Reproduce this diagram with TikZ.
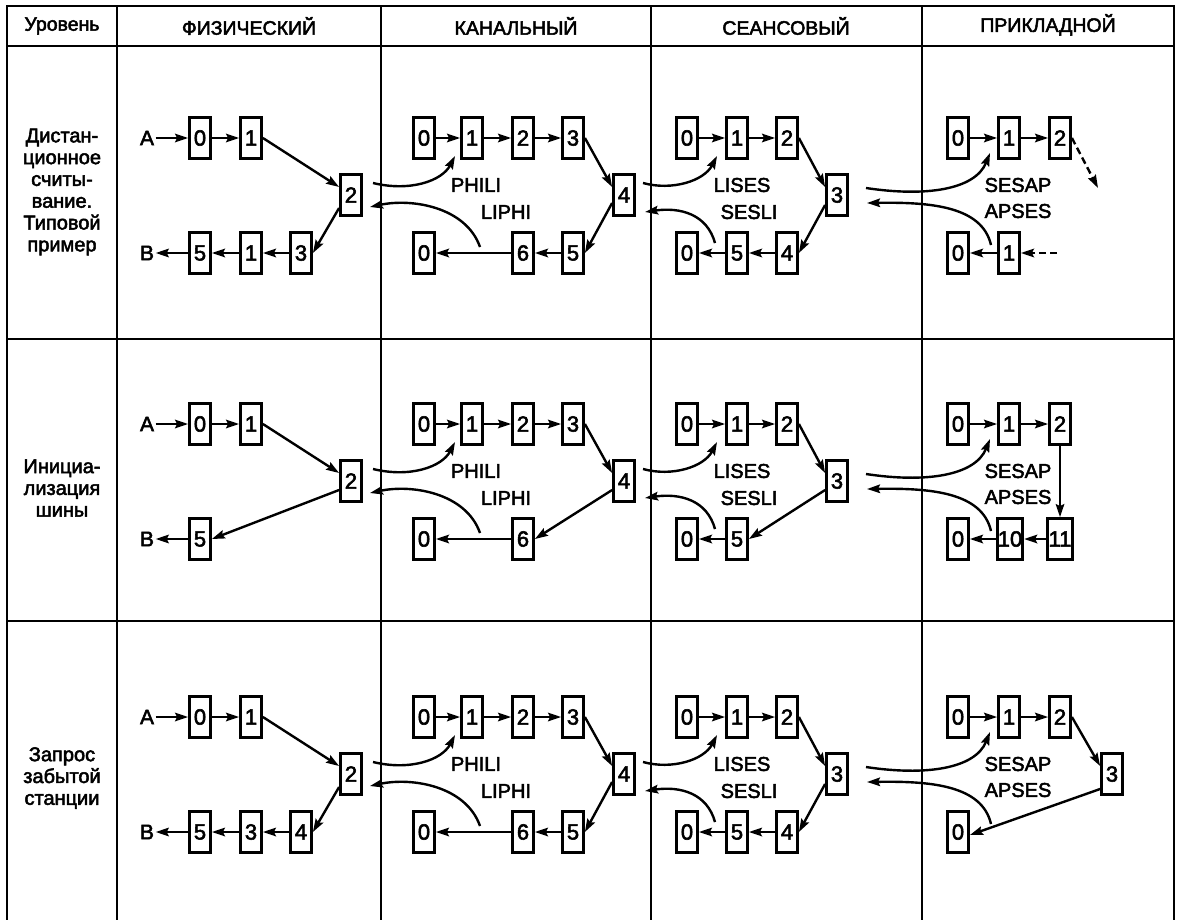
\documentclass[tikz,border=0pt]{standalone}
\usepackage{fontspec}
\setmainfont{Liberation Sans}[BoldFont={Liberation Sans},BoldFeatures={FakeBold=2.5}]
\usetikzlibrary{arrows.meta}
\tikzset{
  tbl/.style={line width=2.8pt},
  box/.style={draw, line width=2.8pt, minimum width=21pt, minimum height=41pt, inner sep=0pt, font=\fontsize{22}{22}\selectfont\bfseries},
  wbox/.style={box, minimum width=25.5pt},
  arr/.style={line width=2.4pt, -{Stealth[length=13pt,width=8.5pt,inset=2pt]}},
  darr/.style={arr, dash pattern=on 7pt off 4pt},
  lbl/.style={inner sep=1.5pt, font=\fontsize{21}{21}\selectfont\bfseries},
  tlbl/.style={inner sep=0pt, font=\fontsize{20}{20}\selectfont\bfseries},
  hdr/.style={inner sep=0pt, font=\fontsize{19.5}{19.5}\selectfont\bfseries},
  rowlbl/.style={inner sep=0pt, align=center, font=\fontsize{20}{21.8}\selectfont\bfseries}
}
\newcommand\layercurves[1]{%
  \coordinate (#1c1s) at (373,183); \coordinate (#1c1e) at (455,156);
  \draw[arr] (#1c1s) .. controls (410,192) and (442,181) .. (#1c1e);
  \coordinate (#1c2s) at (480,247); \coordinate (#1c2e) at (370,207);
  \draw[arr] (#1c2s) .. controls (466,207) and (412,198) .. (#1c2e);
  \coordinate (#1c3s) at (643,183); \coordinate (#1c3e) at (717,156);
  \draw[arr] (#1c3s) .. controls (672,191) and (704,181) .. (#1c3e);
  \coordinate (#1c4s) at (715,243); \coordinate (#1c4e) at (645,212);
  \draw[arr] (#1c4s) .. controls (707,214) and (680,207) .. (#1c4e);
  \coordinate (#1c5s) at (866,188); \coordinate (#1c5e) at (990,153);
  \draw[arr] (#1c5s) .. controls (925,197) and (975,190) .. (#1c5e);
  \coordinate (#1c6s) at (991,245); \coordinate (#1c6e) at (867,203);
  \draw[arr] (#1c6s) .. controls (982,206) and (930,202) .. (#1c6e);
  \node[tlbl] (#1l1) at (476,185) {PHILI};
  \node[tlbl] (#1l2) at (506,212) {LIPHI};
  \node[tlbl] (#1l3) at (742,185) {LISES};
  \node[tlbl] (#1l4) at (749,212) {SESLI};
  \node[tlbl] (#1l5) at (1018,185) {SESAP};
  \node[tlbl] (#1l6) at (1018,211) {APSES};
}
\begin{document}
\begin{tikzpicture}[x=1pt,y=-1pt]
\useasboundingbox (0,0) rectangle (1180,920);
% table
\draw[tbl] (7,920) -- (7,6) -- (1174,6) -- (1174,920);
\draw[tbl] (7,46) -- (1174,46);
\draw[tbl] (7,339) -- (1174,339);
\draw[tbl] (7,621) -- (1174,621);
\foreach \xx in {117,381,651,922} \draw[tbl] (\xx,6) -- (\xx,920);
% headers
\node[hdr] (h0) at (62,26) {Уровень};
\node[hdr] (h1) at (249,26) {ФИЗИЧЕСКИЙ};
\node[hdr] (h2) at (516,26) {КАНАЛЬНЫЙ};
\node[hdr] (h3) at (786,26) {СЕАНСОВЫЙ};
\node[hdr] (h4) at (1048,25) {ПРИКЛАДНОЙ};
% row labels
\node[rowlbl] (r1) at (62,192) {Дистан-\\ционное\\считы-\\вание.\\Типовой\\пример};
\node[rowlbl] (r2) at (62,488) {Инициа-\\лизация\\шины};
\node[rowlbl] (r3) at (62,778) {Запрос\\забытой\\станции};

% ===== Row 1 =====
\begin{scope}
\node[lbl] (aA) at (147,138) {A};
\node[box] (ap0) at (200,138) {0};
\node[box] (ap1) at (251,138) {1};
\node[box] (ap2) at (351,195) {2};
\node[box] (ap3) at (301,253) {3};
\node[box] (ap1b) at (251,253) {1};
\node[box] (ap5) at (200,253) {5};
\node[lbl] (aB) at (147,253) {B};
\draw[arr] (aA) -- (ap0);
\draw[arr] (ap0) -- (ap1);
\draw[arr] (ap1.east) -- ([yshift=8pt]ap2.west);
\draw[arr] ([yshift=-13pt]ap2.west) -- (ap3.east);
\draw[arr] (ap3) -- (ap1b);
\draw[arr] (ap1b) -- (ap5);
\draw[arr] (ap5) -- (aB);
% canal
\node[box] (ak0) at (424,138) {0};
\node[box] (ak1) at (472,138) {1};
\node[box] (ak2) at (523,138) {2};
\node[box] (ak3) at (573,138) {3};
\node[box] (ak4) at (624,195) {4};
\node[box] (ak5) at (573,253) {5};
\node[box] (ak6) at (523,253) {6};
\node[box] (ak0b) at (424,253) {0};
\draw[arr] (ak0) -- (ak1);
\draw[arr] (ak1) -- (ak2);
\draw[arr] (ak2) -- (ak3);
\draw[arr] (ak3.east) -- ([yshift=8pt]ak4.west);
\draw[arr] ([yshift=-8pt]ak4.west) -- (ak5.east);
\draw[arr] (ak5) -- (ak6);
\draw[arr] (ak6) -- (ak0b);
% session
\node[box] (as0) at (687,138) {0};
\node[box] (as1) at (737,138) {1};
\node[box] (as2) at (787,138) {2};
\node[box] (as3) at (837,195) {3};
\node[box] (as4) at (787,253) {4};
\node[box] (as5) at (737,253) {5};
\node[box] (as0b) at (687,253) {0};
\draw[arr] (as0) -- (as1);
\draw[arr] (as1) -- (as2);
\draw[arr] (as2.east) -- ([yshift=8pt]as3.west);
\draw[arr] ([yshift=-10pt]as3.west) -- (as4.east);
\draw[arr] (as4) -- (as5);
\draw[arr] (as5) -- (as0b);
% application
\node[box] (aa0) at (958,138) {0};
\node[box] (aa1) at (1009,138) {1};
\node[box] (aa2) at (1060,138) {2};
\node[box] (aa1b) at (1009,253) {1};
\node[box] (aa0b) at (958,253) {0};
\coordinate (aad1) at (1098,188);
\coordinate (aad2) at (1057,253);
\draw[arr] (aa0) -- (aa1);
\draw[arr] (aa1) -- (aa2);
\draw[darr] (aa2.east) -- (aad1);
\draw[darr] (aad2) -- (aa1b.east);
\draw[arr] (aa1b) -- (aa0b);
\layercurves{a}
\end{scope}

% ===== Row 2 =====
\begin{scope}[shift={(0,286)}]
\node[lbl] (bA) at (147,138) {A};
\node[box] (bp0) at (200,138) {0};
\node[box] (bp1) at (251,138) {1};
\node[box] (bp2) at (351,195) {2};
\node[box] (bp5) at (200,253) {5};
\node[lbl] (bB) at (147,253) {B};
\draw[arr] (bA) -- (bp0);
\draw[arr] (bp0) -- (bp1);
\draw[arr] (bp1.east) -- ([yshift=8pt]bp2.west);
\draw[arr] ([yshift=-9pt]bp2.west) -- (bp5.east);
\draw[arr] (bp5) -- (bB);
% canal
\node[box] (bk0) at (424,138) {0};
\node[box] (bk1) at (472,138) {1};
\node[box] (bk2) at (523,138) {2};
\node[box] (bk3) at (573,138) {3};
\node[box] (bk4) at (624,195) {4};
\node[box] (bk6) at (523,253) {6};
\node[box] (bk0b) at (424,253) {0};
\draw[arr] (bk0) -- (bk1);
\draw[arr] (bk1) -- (bk2);
\draw[arr] (bk2) -- (bk3);
\draw[arr] (bk3.east) -- ([yshift=8pt]bk4.west);
\draw[arr] ([yshift=-9pt]bk4.west) -- (bk6.east);
\draw[arr] (bk6) -- (bk0b);
% session
\node[box] (bs0) at (687,138) {0};
\node[box] (bs1) at (737,138) {1};
\node[box] (bs2) at (787,138) {2};
\node[box] (bs3) at (837,195) {3};
\node[box] (bs5) at (737,253) {5};
\node[box] (bs0b) at (687,253) {0};
\draw[arr] (bs0) -- (bs1);
\draw[arr] (bs1) -- (bs2);
\draw[arr] (bs2.east) -- ([yshift=8pt]bs3.west);
\draw[arr] ([yshift=-9pt]bs3.west) -- (bs5.east);
\draw[arr] (bs5) -- (bs0b);
% application
\node[box] (ba0) at (958,138) {0};
\node[box] (ba1) at (1009,138) {1};
\node[box] (ba2) at (1060,138) {2};
\node[wbox] (ba11) at (1060,253) {11};
\node[wbox] (ba10) at (1010,253) {10};
\node[box] (ba0b) at (958,253) {0};
\draw[arr] (ba0) -- (ba1);
\draw[arr] (ba1) -- (ba2);
\draw[arr] (ba2) -- (ba11);
\draw[arr] (ba11) -- (ba10);
\draw[arr] (ba10) -- (ba0b);
\layercurves{b}
\end{scope}

% ===== Row 3 =====
\begin{scope}[shift={(0,579)}]
\node[lbl] (cA) at (147,138) {A};
\node[box] (cp0) at (200,138) {0};
\node[box] (cp1) at (251,138) {1};
\node[box] (cp2) at (351,195) {2};
\node[box] (cp4) at (301,253) {4};
\node[box] (cp3) at (251,253) {3};
\node[box] (cp5) at (200,253) {5};
\node[lbl] (cB) at (147,253) {B};
\draw[arr] (cA) -- (cp0);
\draw[arr] (cp0) -- (cp1);
\draw[arr] (cp1.east) -- ([yshift=8pt]cp2.west);
\draw[arr] ([yshift=-13pt]cp2.west) -- (cp4.east);
\draw[arr] (cp4) -- (cp3);
\draw[arr] (cp3) -- (cp5);
\draw[arr] (cp5) -- (cB);
% canal
\node[box] (ck0) at (424,138) {0};
\node[box] (ck1) at (472,138) {1};
\node[box] (ck2) at (523,138) {2};
\node[box] (ck3) at (573,138) {3};
\node[box] (ck4) at (624,195) {4};
\node[box] (ck5) at (573,253) {5};
\node[box] (ck6) at (523,253) {6};
\node[box] (ck0b) at (424,253) {0};
\draw[arr] (ck0) -- (ck1);
\draw[arr] (ck1) -- (ck2);
\draw[arr] (ck2) -- (ck3);
\draw[arr] (ck3.east) -- ([yshift=8pt]ck4.west);
\draw[arr] ([yshift=-8pt]ck4.west) -- (ck5.east);
\draw[arr] (ck5) -- (ck6);
\draw[arr] (ck6) -- (ck0b);
% session
\node[box] (cs0) at (687,138) {0};
\node[box] (cs1) at (737,138) {1};
\node[box] (cs2) at (787,138) {2};
\node[box] (cs3) at (837,195) {3};
\node[box] (cs4) at (787,253) {4};
\node[box] (cs5) at (737,253) {5};
\node[box] (cs0b) at (687,253) {0};
\draw[arr] (cs0) -- (cs1);
\draw[arr] (cs1) -- (cs2);
\draw[arr] (cs2.east) -- ([yshift=8pt]cs3.west);
\draw[arr] ([yshift=-10pt]cs3.west) -- (cs4.east);
\draw[arr] (cs4) -- (cs5);
\draw[arr] (cs5) -- (cs0b);
% application
\node[box] (ca0) at (958,138) {0};
\node[box] (ca1) at (1009,138) {1};
\node[box] (ca2) at (1060,138) {2};
\node[box] (ca3) at (1112,195) {3};
\node[box] (ca0b) at (958,253) {0};
\draw[arr] (ca0) -- (ca1);
\draw[arr] (ca1) -- (ca2);
\draw[arr] (ca2.east) -- ([yshift=8pt]ca3.west);
\draw[arr] ([yshift=-15pt]ca3.west) -- ([yshift=-3pt]ca0b.east);
\layercurves{c}
\end{scope}
\end{tikzpicture}
\end{document}
